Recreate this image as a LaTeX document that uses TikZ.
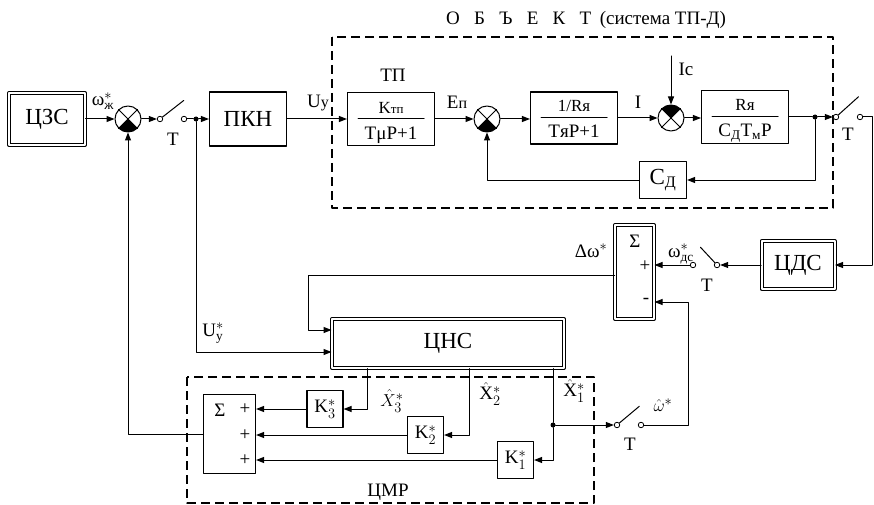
\documentclass[tikz,border=0pt]{standalone}
\usepackage{amsmath}
\usepackage{fontspec}
\setmainfont{Liberation Serif}
\usetikzlibrary{arrows.meta,calc,positioning}

\newcommand\sumjunction[3]{%
  \node[sumc] (#1) at (#2) {};
  \fill (#1.center) -- ([shift={(#3:13pt)}]#1.center)
    arc[start angle=#3,delta angle=90,radius=13pt] -- cycle;
  \draw[line width=1pt] (#1.45) -- (#1.225) (#1.135) -- (#1.315);}

\begin{document}
\begin{tikzpicture}[x=1pt,y=-1pt,>=Stealth,line cap=round,line join=round,
  blk/.style={draw,line width=1.1pt,inner sep=0pt},
  dblk/.style={draw,double,double distance=2pt,line width=1pt,inner sep=0pt},
  conn/.style={line width=1pt,-{Triangle[length=8pt,width=6pt]}},
  wire/.style={line width=1pt},
  sumc/.style={draw,circle,line width=1pt,minimum size=26pt,inner sep=0pt},
  swc/.style={draw,circle,fill=white,line width=0.8pt,minimum size=5.5pt,inner sep=0pt},
  jdot/.style={circle,fill,minimum size=5pt,inner sep=0pt},
  framebox/.style={line width=1.1pt,dash pattern=on 9pt off 5pt,line cap=butt},
  lbl/.style={font=\fontsize{19}{21}\selectfont,inner sep=0pt},
  bigtxt/.style={font=\fontsize{23}{25}\selectfont},
  numtxt/.style={font=\fontsize{17}{19}\selectfont,inner sep=0pt,anchor=base},
  dentxt/.style={font=\fontsize{19}{21}\selectfont,inner sep=0pt,anchor=base}]
\useasboundingbox (0,0) rectangle (874,505);

\draw[framebox] (332,37) rectangle (833,208);
\draw[framebox] (187,377) rectangle (594,503);
\node[lbl] (title) at (586,20) {О\hspace{0.75em}Б\hspace{0.75em}Ъ\hspace{0.75em}Е\hspace{0.75em}К\hspace{0.75em}Т\hspace{0.45em}(система ТП-Д)};
\node[lbl] (cmr) at (388,492) {ЦМР};

\node[dblk,bigtxt,minimum width=76pt,minimum height=52pt] (zs) at (47,119) {ЦЗС};
\sumjunction{s1}{128,119}{225}
\node[swc] (sw1a) at (160,119) {};
\node[swc] (sw1b) at (184,119) {};
\draw[wire] (sw1a.38) -- ++(38:27pt);
\node[jdot] (d1) at (196,119) {};
\node[blk,bigtxt,minimum width=77pt,minimum height=54pt] (pkn) at (248,119) {ПКН};

\node[blk,minimum width=87pt,minimum height=53pt] (tp) at (391,119) {};
\draw[wire] ([xshift=-33pt]tp.center) -- ([xshift=33pt]tp.center);
\node[numtxt] (tpn) at (391,114) {K{\fontsize{13}{13}\selectfont тп}};
\node[dentxt] (tpd) at (391,140) {TμP+1};
\node[lbl] (tpl) at (393,75) {ТП};
\sumjunction{s2}{487,119}{225}
\node[blk,minimum width=87pt,minimum height=52pt] (ra) at (574,118) {};
\draw[wire] ([xshift=-33pt]ra.center) -- ([xshift=33pt]ra.center);
\node[numtxt] (ran) at (574,112) {1/Rя};
\node[dentxt] (rad) at (574,138) {TяP+1};
\sumjunction{s3}{671,118}{45}
\node[blk,minimum width=87pt,minimum height=53pt] (rm) at (745,117) {};
\draw[wire] ([xshift=-33pt]rm.center) -- ([xshift=33pt]rm.center);
\node[numtxt] (rmn) at (745,111) {Rя};
\node[dentxt] (rmd) at (745,137) {C\textsubscript{Д}T\textsubscript{м}P};
\node[jdot] (d2) at (815,117) {};
\node[swc] (sw2a) at (836,117) {};
\node[swc] (sw2b) at (860,117) {};
\draw[wire] (sw2a.42) -- ++(42:27pt);
\node[blk,bigtxt,minimum width=47pt,minimum height=37pt] (cd) at (663,180) {C\textsubscript{Д}};
\coordinate (icin) at (671,56);
\coordinate (rt) at (872,117);
\coordinate (rb) at (872,265);

\node[dblk,bigtxt,minimum width=73pt,minimum height=48pt] (dls) at (798,265) {ЦДС};
\node[swc] (sw3a) at (693,265) {};
\node[swc] (sw3b) at (717,265) {};
\draw[wire] (sw3b.133) -- ++(133:21pt);
\node[dblk,minimum width=39pt,minimum height=94pt] (sg1) at (634.5,272) {};
\node[lbl] (sg1s) at (635,241) {Σ};
\node[lbl] (sg1p) at (645,266) {+};
\node[lbl] (sg1m) at (646,301) {-};
\coordinate (dwout) at (308,275);
\coordinate (wt) at (688,302);

\node[dblk,bigtxt,minimum width=232pt,minimum height=49pt] (nc) at (448,343.5) {ЦНС};

\node[blk,minimum width=52pt,minimum height=79pt] (sm) at (229.5,434) {};
\node[lbl] (sms) at (220,410) {Σ};
\node[lbl] (smp3) at (245,409) {+};
\node[lbl] (smp2) at (245,435) {+};
\node[lbl] (smp1) at (245,460) {+};
\node[blk,lbl,minimum width=36pt,minimum height=37pt] (k3) at (325,409) {K$_3^{*}$};
\node[blk,lbl,minimum width=36pt,minimum height=37pt] (k2) at (425.5,435) {K$_2^{*}$};
\node[blk,lbl,minimum width=36pt,minimum height=37pt] (k1) at (515.5,460) {K$_1^{*}$};
\node[jdot] (d3) at (553,425) {};
\node[swc] (sw4a) at (617,425) {};
\node[swc] (sw4b) at (641,425) {};
\draw[wire] (sw4a.40) -- ++(40:26pt);

\node[lbl] (lwz) at (103,101) {$\text{ω}^{*}_{\text{ж}}$};
\node[lbl] (lt1) at (173,139) {T};
\node[lbl] (luy) at (318,103) {U{\fontsize{16}{16}\selectfont у}};
\node[lbl] (len) at (457,102) {E{\fontsize{16}{16}\selectfont п}};
\node[lbl] (li) at (638,102) {I};
\node[lbl] (lic) at (686,69) {Ic};
\node[lbl] (lt2) at (848,134) {T};
\node[lbl] (ldw) at (591,251) {$\text{Δω}^{*}$};
\node[lbl] (lwds) at (681,254) {$\text{ω}^{*}_{\text{дс}}$};
\node[lbl] (lt3) at (707,285) {T};
\node[lbl] (luys) at (213,333) {$\text{U}^{*}_{\text{у}}$};
\node[lbl] (lx3) at (392,401) {$\hat{X}^{*}_{3}$};
\node[lbl] (lx2) at (490,394) {$\hat{\mathrm{X}}^{*}_{2}$};
\node[lbl] (lx1) at (574,391) {$\hat{\mathrm{X}}^{*}_{1}$};
\node[lbl] (lwh) at (663,405) {$\hat{\omega}^{*}$};
\node[lbl] (lt4) at (630,444) {T};

\draw[conn] (zs) -- (s1);
\draw[conn] (s1) -- (sw1a);
\draw[wire] (sw1b) -- (d1);
\draw[conn] (d1) -- (pkn);
\draw[conn] (pkn) -- (tp.west |- pkn);
\draw[conn] (tp) -- (s2);
\draw[conn] (s2) -- (ra.west |- s2);
\draw[conn] (ra.east |- s3) -- (s3);
\draw[conn] (s3) -- (rm.west |- s3);
\draw[wire] (rm.east |- d2) -- (d2);
\draw[conn] (d2) -- (sw2a);
\draw[conn] (icin) -- (s3);
\draw[conn] (d2) |- (cd);
\draw[conn] (cd) -| (s2);
\draw[wire] (sw2b) -- (rt) -- (rb);
\draw[conn] (rb) -- (dls);
\draw[conn] (dls) -- (sw3b);
\draw[conn] (sw3a) -- (sw3a -| sg1.east);
\draw[conn] (sg1.west |- dwout) -- (dwout) |- (nc.west |- 0,330);
\draw[conn] (d1) |- (nc.west |- 0,352);
\draw[conn] (nc.south -| 367,0) |- (k3);
\draw[conn] (nc.south -| 469,0) |- (k2);
\draw[wire] (nc.south -| d3) -- (d3);
\draw[conn] (d3) |- (k1);
\draw[conn] (d3) -- (sw4a);
\draw[conn] (sw4b) -| (wt) -- (wt -| sg1.east);
\draw[conn] (k3) -- (k3 -| sm.east);
\draw[conn] (k2) -- (k2 -| sm.east);
\draw[conn] (k1) -- (k1 -| sm.east);
\draw[conn] (sm.west) -| (s1);
\end{tikzpicture}
\end{document}
